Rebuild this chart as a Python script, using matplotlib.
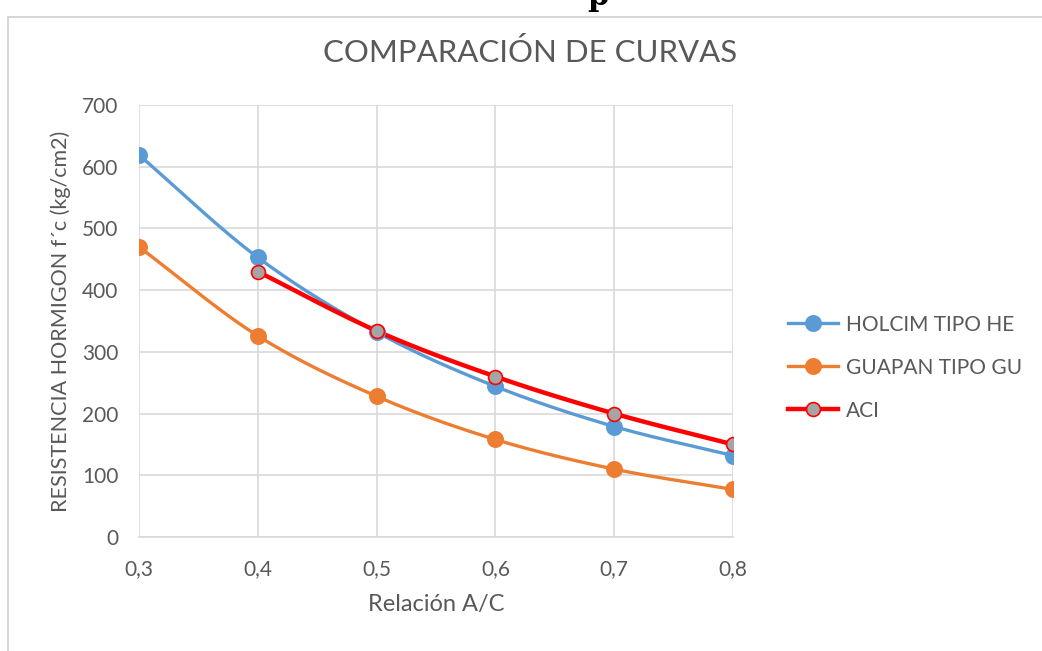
import numpy as np
import matplotlib
matplotlib.use("Agg")
import matplotlib.pyplot as plt
from matplotlib.patches import Rectangle
from matplotlib.ticker import FuncFormatter

# data
relacion_ac = [0.3, 0.4, 0.5, 0.6, 0.7, 0.8]
holcim_he = [619, 453, 332, 244, 179, 132]
guapan_gu = [470, 326, 228, 158, 110, 77]
aci_x = [0.4, 0.5, 0.6, 0.7, 0.8]
aci = [430, 334, 260, 200, 150]

plt.rcParams["font.family"] = ["Lato", "DejaVu Sans"]
TXT = "#595959"
GRID = "#d9d9d9"


def smooth(x, y, n=30):
    # Catmull-Rom pass through the points, like the spreadsheet "smoothed line"
    x = np.asarray(x, float)
    y = np.asarray(y, float)
    px = np.concatenate([[2 * x[0] - x[1]], x, [2 * x[-1] - x[-2]]])
    py = np.concatenate([[2 * y[0] - y[1]], y, [2 * y[-1] - y[-2]]])
    xs, ys = [], []
    t = np.linspace(0, 1, n)
    for i in range(1, len(px) - 2):
        for arr, out in ((px, xs), (py, ys)):
            p0, p1, p2, p3 = arr[i - 1:i + 3]
            out.extend(0.5 * ((2 * p1) + (-p0 + p2) * t
                              + (2 * p0 - 5 * p1 + 4 * p2 - p3) * t ** 2
                              + (-p0 + 3 * p1 - 3 * p2 + p3) * t ** 3))
    return np.array(xs), np.array(ys)


W, H = 1042, 651
fig = plt.figure(figsize=(W / 100, H / 100), dpi=100)
ax = fig.add_axes([139 / W, 1 - 537 / H, (733 - 139) / W, (537 - 105) / H])

# chart border (only left/top edges visible in the crop)
fig.patches.append(Rectangle((8 / W, -0.1), 1.2, 1 - 17 / H + 0.1, transform=fig.transFigure,
                             fill=False, edgecolor="#d0d0d0", linewidth=1.2))
fig.text(598 / W, 1 + 4 / H, "p", fontsize=22, family="DejaVu Serif", fontweight="bold",
         ha="center", va="center")

series = [
    (relacion_ac, holcim_he, "HOLCIM TIPO HE", "#5b9bd5", 2.4, "#5b9bd5", "#5b9bd5", 11),
    (relacion_ac, guapan_gu, "GUAPAN TIPO GU", "#ed7d31", 2.4, "#ed7d31", "#ed7d31", 11),
    (aci_x, aci, "ACI", "#ff0000", 3.2, "#a5a5a5", "#ff0000", 10),
]
for xs, ys, name, color, lw, mfc, mec, ms in series:
    sx, sy = smooth(xs, ys)
    ax.plot(sx, sy, color=color, linewidth=lw, solid_capstyle="round", zorder=2)
    ax.plot(xs, ys, linestyle="none", marker="o", markersize=ms, markerfacecolor=mfc,
            markeredgecolor=mec, markeredgewidth=1.2, zorder=3)
    ax.plot([], [], color=color, linewidth=lw, marker="o", markersize=ms,
            markerfacecolor=mfc, markeredgecolor=mec, markeredgewidth=1.2, label=name)

ax.set_xlim(0.3, 0.8)
ax.set_ylim(0, 700)
ax.set_xticks(relacion_ac)
ax.set_yticks(range(0, 701, 100))
ax.xaxis.set_major_formatter(FuncFormatter(lambda v, _: f"{v:.1f}".replace(".", ",")))
ax.grid(True, color=GRID, linewidth=1.2, zorder=0)
ax.set_axisbelow(True)
for side in ("top", "right", "left"):
    ax.spines[side].set_visible(False)
ax.spines["bottom"].set_color(GRID)
ax.spines["bottom"].set_linewidth(1.2)
ax.tick_params(length=0, labelsize=15, labelcolor=TXT)
ax.tick_params(axis="x", pad=16)
ax.tick_params(axis="y", pad=15)

ax.set_xlabel("Relación A/C", fontsize=17, color=TXT, labelpad=11)
ax.set_ylabel("RESISTENCIA HORMIGON f´c (kg/cm2)", fontsize=15.5, color=TXT, labelpad=8)
fig.text(530 / W, 1 - 53 / H, "COMPARACIÓN DE CURVAS", fontsize=22.4, color=TXT,
         ha="center", va="center")

leg = fig.legend(loc="upper left", bbox_to_anchor=(769 / W, 1 - 296 / H), frameon=False,
                 fontsize=15, labelcolor=TXT, handlelength=2.4, labelspacing=1.1,
                 handletextpad=0.4)

fig.savefig("out.png", dpi=100)
